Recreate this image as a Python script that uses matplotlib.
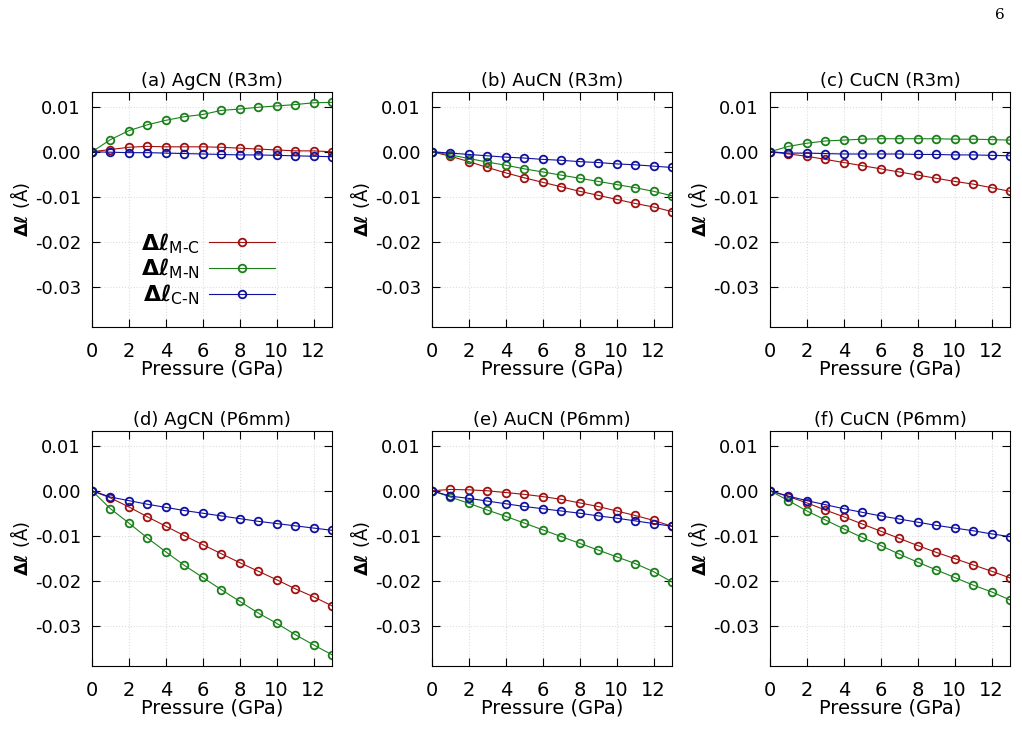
import numpy as np
import matplotlib.pyplot as plt

pressure = np.arange(14)

titles = ["(a) AgCN (R3m)", "(b) AuCN (R3m)", "(c) CuCN (R3m)",
          "(d) AgCN (P6mm)", "(e) AuCN (P6mm)", "(f) CuCN (P6mm)"]

d_mc = [
    [0, .0005, .001, .0012, .0011, .0011, .0011, .001, .0008, .0006, .0004, .0002, .0002, 0],
    [0, -.001, -.0022, -.0035, -.0047, -.0058, -.0068, -.0078, -.0088, -.0097, -.0106, -.0115, -.0123, -.0133],
    [0, -.0005, -.001, -.0017, -.0024, -.0031, -.0038, -.0045, -.0052, -.0059, -.0066, -.0072, -.008, -.0088],
    [0, -.0016, -.0036, -.0058, -.0079, -.01, -.012, -.014, -.016, -.0179, -.0198, -.0218, -.0236, -.0256],
    [0, .0003, .0002, 0, -.0004, -.0008, -.0013, -.0019, -.0027, -.0035, -.0045, -.0055, -.0066, -.0079],
    [0, -.0013, -.0027, -.0043, -.0058, -.0074, -.009, -.0106, -.0122, -.0137, -.0151, -.0165, -.0179, -.0194],
]
d_mn = [
    [0, .0027, .0047, .006, .007, .0078, .0083, .0092, .0095, .0099, .0102, .0105, .0109, .011],
    [0, -.0007, -.0015, -.0023, -.003, -.0038, -.0045, -.0052, -.0059, -.0066, -.0073, -.008, -.0088, -.0098],
    [0, .0012, .0019, .0024, .0026, .0028, .0029, .0029, .0029, .0029, .0028, .0028, .0027, .0026],
    [0, -.004, -.0072, -.0105, -.0136, -.0166, -.0193, -.022, -.0246, -.0272, -.0295, -.032, -.0343, -.0365],
    [0, -.0014, -.0028, -.0043, -.0057, -.0072, -.0087, -.0102, -.0117, -.0132, -.0147, -.0162, -.018, -.0203],
    [0, -.0022, -.0045, -.0065, -.0085, -.0104, -.0122, -.0141, -.0159, -.0176, -.0193, -.021, -.0225, -.0243],
]
d_cn = [
    [0, -.0001, -.0002, -.0002, -.0003, -.0004, -.0005, -.0006, -.0007, -.0007, -.0008, -.0009, -.001, -.0011],
    [0, -.0003, -.0006, -.0009, -.0012, -.0014, -.0017, -.0019, -.0022, -.0024, -.0027, -.0029, -.0032, -.0035],
    [0, -.0003, -.0003, -.0004, -.0005, -.0005, -.0005, -.0005, -.0006, -.0006, -.0007, -.0007, -.0008, -.0009],
    [0, -.0014, -.0022, -.003, -.0037, -.0044, -.005, -.0056, -.0062, -.0068, -.0073, -.0078, -.0083, -.0088],
    [0, -.0012, -.0017, -.0023, -.0029, -.0035, -.004, -.0045, -.005, -.0056, -.0061, -.0067, -.0073, -.0079],
    [0, -.0012, -.0022, -.0031, -.004, -.0048, -.0056, -.0063, -.007, -.0077, -.0083, -.0089, -.0096, -.0102],
]

series = [
    (d_mc, "#a01010", r"$\mathbf{\Delta\ell}_{\mathrm{M\text{-}C}}$"),
    (d_mn, "#1a801a", r"$\mathbf{\Delta\ell}_{\mathrm{M\text{-}N}}$"),
    (d_cn, "#1010a0", r"$\mathbf{\Delta\ell}_{\mathrm{C\text{-}N}}$"),
]

fig = plt.figure(figsize=(10.22, 7.52), dpi=100)
W, H = 1022, 752
lefts = [92, 432, 770]
bottoms = [327, 666]
aw, ah = 240, 235

for i in range(6):
    r, c = divmod(i, 3)
    ax = fig.add_axes([lefts[c] / W, 1 - bottoms[r] / H, aw / W, ah / H])
    for data, col, lab in series:
        ax.plot(pressure, data[i], color=col, lw=0.8, marker="o", ms=5.5,
                mfc="none", mec=col, mew=1.3, label=lab)
    ax.set_xlim(0, 13)
    ax.set_ylim(-0.039, 0.0133)
    ax.set_xticks(range(0, 13, 2))
    ax.set_yticks([0.01, 0, -0.01, -0.02, -0.03])
    ax.set_yticklabels(["0.01", "0.00", "-0.01", "-0.02", "-0.03"])
    ax.tick_params(direction="in", top=True, right=True, labelsize=13, length=6, pad=8)
    ax.tick_params(axis="x", labelsize=14, pad=11)
    ax.grid(True, ls=":", color="#dddddd", lw=0.8)
    ax.set_title(titles[i], fontsize=13, pad=4)
    ax.set_xlabel("Pressure (GPa)", fontsize=14, labelpad=-1)
    ax.set_ylabel(r"$\mathbf{\Delta\ell}$ (Å)", fontsize=13, labelpad=2)
    if i == 0:
        ax.legend(loc="lower left", bbox_to_anchor=(0.12, 0.0), markerfirst=False,
                  frameon=False, fontsize=16, handlelength=3.0, labelspacing=0.05,
                  handletextpad=0.4)

fig.text(1005 / W, 1 - 15 / H, "6", fontsize=11, family="DejaVu Serif", ha="right", va="center")
fig.savefig("out.png", dpi=100)
